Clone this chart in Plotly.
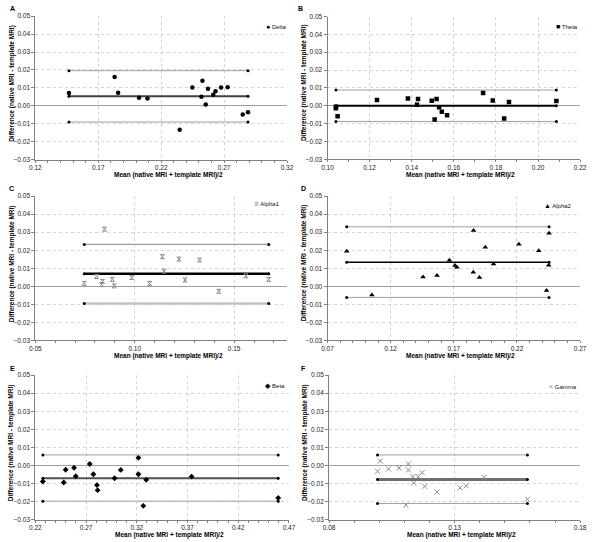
import plotly.graph_objects as go

W, H = 594, 542

# ---------------- data ----------------
delta_mean = [0.1467, 0.1830, 0.1858, 0.2024, 0.2091, 0.2347, 0.2448, 0.2528, 0.2520,
              0.2554, 0.2572, 0.2614, 0.2632, 0.2676, 0.2728, 0.2848, 0.2890]
delta_diff = [0.0071, 0.0161, 0.0073, 0.0045, 0.0041, -0.0133, 0.0102, 0.0140, 0.0051,
              0.0007, 0.0095, 0.0062, 0.0082, 0.0102, 0.0104, -0.0048, -0.0036]
delta_limits = [0.0053, 0.0196, -0.0090]   # bias, upper, lower

theta_mean = [0.1040, 0.1040, 0.1048, 0.1235, 0.1382, 0.1425, 0.1430, 0.1495, 0.1509,
              0.1518, 0.1530, 0.1543, 0.1568, 0.1739, 0.1785, 0.1839, 0.1862, 0.2087]
theta_diff = [-0.0014, -0.0006, -0.0059, 0.0032, 0.0041, 0.0006, 0.0038, 0.0028, -0.0077,
              0.0038, -0.0009, -0.0034, -0.0053, 0.0072, 0.0030, -0.0071, 0.0021, 0.0026]
theta_limits = [0.0000, 0.0088, -0.0088]

alpha1_mean = [0.0746, 0.0808, 0.0838, 0.0833, 0.0848, 0.0887, 0.0897, 0.0985, 0.1075,
               0.1139, 0.1147, 0.1222, 0.1253, 0.1326, 0.1423, 0.1559, 0.1674]
alpha1_diff = [0.0016, 0.0054, 0.0027, 0.0009, 0.0317, 0.0038, 0.0002, 0.0049, 0.0016,
               0.0164, 0.0084, 0.0151, 0.0035, 0.0146, -0.0028, 0.0058, 0.0038]
alpha1_limits = [0.0069, 0.0232, -0.0095]

alpha2_mean = [0.0852, 0.1051, 0.1456, 0.1567, 0.1665, 0.1709, 0.1724, 0.1856, 0.1854,
               0.1903, 0.1949, 0.2014, 0.2215, 0.2372, 0.2434, 0.2454, 0.2451]
alpha2_diff = [0.0195, -0.0048, 0.0051, 0.0060, 0.0144, 0.0115, 0.0106, 0.0310, 0.0078,
               0.0049, 0.0217, 0.0124, 0.0233, 0.0197, -0.0024, 0.0294, 0.0117]
alpha2_limits = [0.0133, 0.0330, -0.0062]

beta_mean = [0.2274, 0.2480, 0.2499, 0.2582, 0.2598, 0.2736, 0.2772, 0.2807, 0.2814,
             0.2981, 0.3042, 0.3216, 0.3216, 0.3293, 0.3264, 0.3740, 0.4594]
beta_diff = [-0.0089, -0.0095, -0.0024, -0.0013, -0.0060, 0.0008, -0.0049, -0.0109, -0.0137,
             -0.0071, -0.0025, 0.0042, -0.0049, -0.0080, -0.0224, -0.0062, -0.0180]
beta_limits = [-0.0071, 0.0058, -0.0198]

gamma_mean = [0.1004, 0.0993, 0.1037, 0.1079, 0.1116, 0.1116, 0.1134, 0.1155, 0.1171,
              0.1137, 0.1181, 0.1230, 0.1322, 0.1346, 0.1418, 0.1590, 0.1106]
gamma_diff = [0.0024, -0.0033, -0.0020, -0.0014, 0.0008, -0.0025, -0.0062, -0.0062, -0.0040,
              -0.0098, -0.0116, -0.0148, -0.0124, -0.0113, -0.0067, -0.0188, -0.0220]
gamma_limits = [-0.0078, 0.0058, -0.0211]

panel_letters = ["A", "B", "C", "D", "E", "F"]
series_names = ["Delta", "Theta", "Alpha1", "Alpha2", "Beta", "Gamma"]
legend_glyphs = ["●", "■", "⧖", "▲", "◆", "×"]
x_ranges = [[0.12, 0.32], [0.10, 0.22], [0.05, 0.1766], [0.07, 0.27], [0.22, 0.47], [0.08, 0.18]]
x_dticks = [0.05, 0.02, 0.05, 0.05, 0.05, 0.05]
y_range = [-0.03, 0.05]
y_dtick = 0.01

x_title = "Mean (native MRI + template MRI)/2"
y_title = "Difference (native MRI - template MRI)"

# ---------------- styling / layout ----------------
FONT = "Liberation Sans, Arial, DejaVu Sans, sans-serif"
data_sets = [
    (delta_mean, delta_diff, delta_limits),
    (theta_mean, theta_diff, theta_limits),
    (alpha1_mean, alpha1_diff, alpha1_limits),
    (alpha2_mean, alpha2_diff, alpha2_limits),
    (beta_mean, beta_diff, beta_limits),
    (gamma_mean, gamma_diff, gamma_limits),
]
marker_colors = ["black", "black", "#8a8a8a", "black", "black", "#8a8a8a"]
markers = [
    dict(symbol="circle", size=4.5, color="black"),
    dict(symbol="square", size=4.5, color="black"),
    dict(symbol="hourglass-open", size=4, color="#8a8a8a", line=dict(color="#8a8a8a", width=1)),
    dict(symbol="triangle-up", size=5, color="black"),
    dict(symbol="diamond", size=4.5, color="black"),
    dict(symbol="x-thin-open", size=5, color="#8a8a8a", line=dict(color="#8a8a8a", width=1)),
]
# (bias style, upper style, lower style)
line_styles = [
    [("#404040", 2), ("#a0a0a0", 1), ("#a0a0a0", 1)],
    [("#000000", 2), ("#a0a0a0", 1), ("#a0a0a0", 1)],
    [("#000000", 2.5), ("#a0a0a0", 1.2), ("#c4c4c4", 2.5)],
    [("#000000", 1.5), ("#a0a0a0", 1), ("#a0a0a0", 1)],
    [("#505050", 2), ("#a0a0a0", 1), ("#a0a0a0", 1)],
    [("#707070", 3), ("#a0a0a0", 1), ("#a0a0a0", 1)],
]
# plot areas in pixels: left, right, top, bottom
boxes = [
    (30, 287.3, 12.3, 157.7),
    (328.7, 587, 12.7, 157.3),
    (30, 287.3, 194.7, 340.7),
    (328.7, 587, 194.7, 340.7),
    (30, 289.3, 376, 522.3),
    (330.3, 587, 376, 522.3),
]
legend_pos = [(266.7, 22.7), (563.7, 22.7), (255, 202.3), (551.3, 204), (265.7, 386), (556, 387)]
letter_pos = [(7, 4.5), (301, 4.5), (6, 186.5), (304, 186.5), (7, 369.5), (304, 369.5)]

def px(x):
    return x / W

def py(y):
    return 1 - y / H

fig = go.Figure()
annotations = []
layout = dict(
    width=W, height=H, margin=dict(l=0, r=0, t=0, b=0),
    paper_bgcolor="white", plot_bgcolor="white", showlegend=False,
    font=dict(family=FONT, size=6.5, color="#222"),
)

for i in range(6):
    s = "" if i == 0 else str(i + 1)
    xa, ya = "x" + s, "y" + s
    xs, ys, lim = data_sets[i]
    x0, x1 = min(xs), max(xs)
    # limit lines (bias, upper, lower)
    for k in range(3):
        col, wid = line_styles[i][k]
        fig.add_trace(go.Scatter(
            x=[x0, x1], y=[lim[k], lim[k]], xaxis=xa, yaxis=ya,
            mode="lines+markers", line=dict(color=col, width=wid),
            marker=dict(symbol="circle", size=3, color="black"),
            showlegend=False, hoverinfo="skip"))
    fig.add_trace(go.Scatter(
        x=xs, y=ys, xaxis=xa, yaxis=ya, mode="markers", marker=markers[i],
        name=series_names[i]))

    l, r, t, b = boxes[i]
    layout["xaxis" + s] = dict(
        domain=[px(l), px(r)], anchor=ya, range=x_ranges[i],
        tick0=x_ranges[i][0], dtick=x_dticks[i], tickformat=".2f",
        showgrid=True, gridcolor="#d4d4d4", griddash="dot", gridwidth=1,
        showline=True, linecolor="#808080", linewidth=1,
        ticks="outside", ticklen=2, tickcolor="#808080",
        minor=dict(dtick=0.01, ticks="outside", ticklen=2, tickcolor="#808080", showgrid=False),
        zeroline=False, tickfont=dict(size=6.5, color="#222"),
    )
    layout["yaxis" + s] = dict(
        domain=[py(b), py(t)], anchor=xa, range=y_range,
        tick0=-0.03, dtick=y_dtick, tickformat=".2f",
        showgrid=True, gridcolor="#d4d4d4", griddash="dot", gridwidth=1,
        showline=True, linecolor="#808080", linewidth=1,
        ticks="outside", ticklen=3, tickcolor="#808080",
        zeroline=True, zerolinecolor="#a0a0a0", zerolinewidth=1,
        tickfont=dict(size=6.5, color="#222"),
    )
    # legend key (glyph + series name)
    lx, ly = legend_pos[i]
    annotations.append(dict(
        text='<span style="color:%s;font-size:7px">%s</span> %s'
             % (marker_colors[i], legend_glyphs[i], series_names[i]),
        x=px(lx - 3), y=py(ly), xref="paper", yref="paper", showarrow=False,
        xanchor="left", yanchor="middle",
        font=dict(size=6, family=FONT, color="#111")))
    # axis titles
    annotations.append(dict(
        text="<b>" + x_title + "</b>", x=px((l + r) / 2 + 7), y=py(b + 15.5),
        xref="paper", yref="paper", showarrow=False, xanchor="center", yanchor="middle",
        font=dict(size=6.5, family=FONT, color="black")))
    annotations.append(dict(
        text="<b>" + y_title + "</b>", x=px(l - 24), y=py((t + b) / 2 - 5),
        xref="paper", yref="paper", showarrow=False, textangle=-90,
        xanchor="center", yanchor="middle",
        font=dict(size=6.5, family=FONT, color="black")))
    lpx, lpy = letter_pos[i]
    annotations.append(dict(
        text="<b>" + panel_letters[i] + "</b>", x=px(lpx), y=py(lpy),
        xref="paper", yref="paper", showarrow=False, xanchor="center", yanchor="middle",
        font=dict(size=7, family=FONT, color="black")))

layout["annotations"] = annotations
fig.update_layout(**layout)
fig.write_html("out.html", config={"displayModeBar": False},
               post_script="document.body.style.margin='0px';")
